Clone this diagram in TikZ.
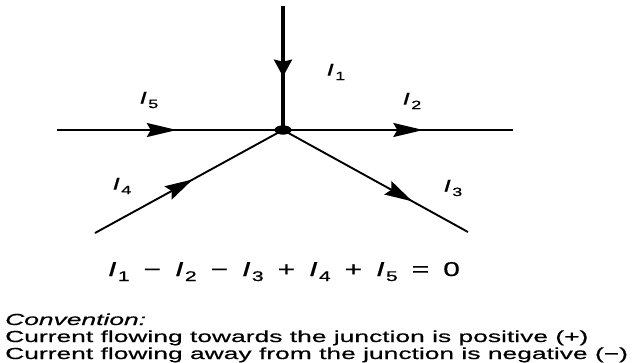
\documentclass[tikz,border=0pt]{standalone}
\usepackage{fontspec}
\setmainfont{Liberation Sans}
\newfontfamily\convfont[FakeStretch=1.65,FakeBold=0.6]{Liberation Sans}
\newfontfamily\eqfont[FakeStretch=1.5,FakeBold=0.8]{Liberation Sans}
\usetikzlibrary{arrows.meta,decorations.markings,shapes.geometric}
\newcommand\Ilab[1]{{\itshape I}\hspace{1.5pt}\raisebox{-4.5pt}{\fontsize{12}{12}\selectfont #1}}
\newcommand\Ieq[1]{{\itshape I}\hspace{1.5pt}\raisebox{-5pt}{\fontsize{14}{14}\selectfont #1}}
\newcommand\gap{\hspace{14pt}}
\tikzset{
  wire/.style={line width=1.9pt, black},
  thickwire/.style={line width=3.2pt, black},
  flowarrow/.style 2 args={postaction={decorate},
    decoration={markings, mark=at position #1 with {\arrow{#2}}}},
  lbl/.style={font=\eqfont\fontsize{17}{17}\selectfont, inner sep=0pt},
  eqn/.style={font=\eqfont\fontsize{20}{20}\selectfont, inner sep=0pt, anchor=base},
  conv/.style={font=\convfont\fontsize{16}{16}\selectfont, inner sep=0pt, anchor=base west},
  junction/.style={ellipse, fill=black, inner sep=0pt, minimum width=17pt, minimum height=9pt}
}
\begin{document}
\begin{tikzpicture}[x=1pt, y=-1pt]
\useasboundingbox[fill=white] (0,0) rectangle (632,362);
% end points
\coordinate (T) at (283,6);
\coordinate (L) at (57,130);
\coordinate (R) at (513,130);
\coordinate (BL) at (95,233);
\coordinate (BR) at (468,232);
\node[junction] (J) at (283,130) {};
% connectors
\draw[thickwire, flowarrow={0.57}{Stealth[length=17pt,width=18pt,inset=2pt]}] (T) -- (J.center);
\draw[wire, flowarrow={0.53}{Stealth[length=30pt,width=14pt,inset=4pt]}] (L) -- (J.center);
\draw[wire, flowarrow={0.61}{Stealth[length=30pt,width=14pt,inset=4pt]}] (J.center) -- (R);
\draw[wire, flowarrow={0.52}{Stealth[length=28pt,width=15pt,inset=4pt]}] (BL) -- (J.center);
\draw[wire, flowarrow={0.70}{Stealth[length=28pt,width=15pt,inset=4pt]}] (J.center) -- (BR);
\node[junction] (J2) at (J.center) {};
% labels
\node[lbl] (l1) at (336,72) {\Ilab{1}};
\node[lbl] (l5) at (149,100) {\Ilab{5}};
\node[lbl] (l2) at (412,101) {\Ilab{2}};
\node[lbl] (l4) at (122,186) {\Ilab{4}};
\node[lbl] (l3) at (453,188) {\Ilab{3}};
% equation
\node[eqn] (eq) at (284,276) {\Ieq{1}\gap−\gap\Ieq{2}\gap−\gap\Ieq{3}\gap+\gap\Ieq{4}\gap+\gap\Ieq{5}\gap=\gap0};
% convention
\node[conv] (c0) at (5,325) {\itshape Convention:};
\node[conv] (c1) at (5,342) {Current flowing towards the junction is positive (+)};
\node[conv] (c2) at (5,359) {Current flowing away from the junction is negative (−)};
\end{tikzpicture}
\end{document}
